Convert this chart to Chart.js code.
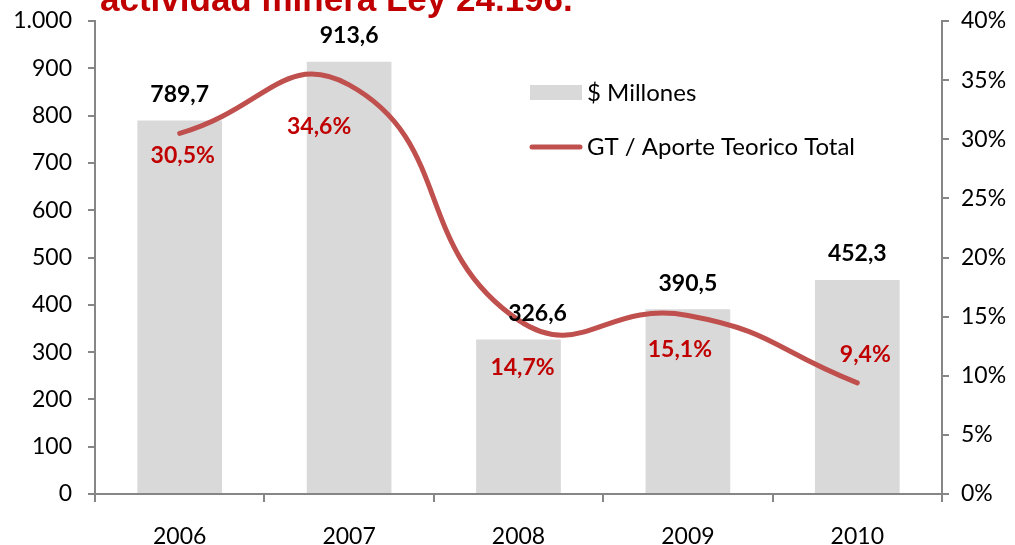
<!DOCTYPE html>
<html>
<head>
<meta charset="utf-8">
<script src="https://cdn.jsdelivr.net/npm/chart.js@4.4.1/dist/chart.umd.min.js"></script>
<style>
  html, body { margin: 0; padding: 0; background: #fff; overflow: hidden; }
  #wrap { position: relative; width: 1015px; height: 545px; }
</style>
</head>
<body>
<div id="wrap"><canvas id="chart" width="1015" height="545"></canvas></div>
<script>
// Chart data
const years = ["2006", "2007", "2008", "2009", "2010"];
const millones = [789.7, 913.6, 326.6, 390.5, 452.3];
const gtAporte = [0.305, 0.346, 0.147, 0.151, 0.094];
const titleText = "actividad minera Ley 24.196.";
const barLabel = "$ Millones";
const lineLabel = "GT / Aporte Teorico Total";

const FONT = "Lato, 'Open Sans', sans-serif";
const AXIS = "#868686";

// label offsets (px) as placed in the original
const barOffsets = [[0, -26], [0, -26], [19, -26], [0, -26], [0, -26]];
const pctOffsets = [[3, 22], [-30, 42], [4, 47], [-8, 34], [8, -28]];

function comma(v) {
  return v.toFixed(1).replace(".", ",");
}

// draws the cut-off title, value labels and the legend inside the plot
const extrasPlugin = {
  id: "extras",
  afterDatasetsDraw(chart) {
    const ctx = chart.ctx;
    ctx.save();

    // title (partly off the top edge)
    ctx.fillStyle = "#C00000";
    ctx.font = "bold 35px 'Liberation Sans', Arial, sans-serif";
    ctx.textAlign = "left";
    ctx.textBaseline = "alphabetic";
    ctx.fillText(titleText, 100, 11);

    // bar values
    const barMeta = chart.getDatasetMeta(1);
    ctx.fillStyle = "#000";
    ctx.font = "bold 23px " + FONT;
    ctx.textAlign = "center";
    ctx.textBaseline = "middle";
    barMeta.data.forEach((bar, i) => {
      const [dx, dy] = barOffsets[i];
      ctx.fillText(comma(millones[i]), bar.x + dx, bar.y + dy);
    });

    // percentage values
    const lineMeta = chart.getDatasetMeta(0);
    ctx.fillStyle = "#C00000";
    lineMeta.data.forEach((pt, i) => {
      const [dx, dy] = pctOffsets[i];
      ctx.fillText(comma(gtAporte[i] * 100) + "%", pt.x + dx, pt.y + dy);
    });

    // legend
    ctx.font = "24px " + FONT;
    ctx.textAlign = "left";
    ctx.fillStyle = "#D9D9D9";
    ctx.fillRect(530, 85, 52, 15);
    ctx.fillStyle = "#000";
    ctx.fillText(barLabel, 587, 93);
    ctx.strokeStyle = "#C0504D";
    ctx.lineWidth = 5;
    ctx.lineCap = "round";
    ctx.beginPath();
    ctx.moveTo(532, 147);
    ctx.lineTo(580, 147);
    ctx.stroke();
    ctx.fillText(lineLabel, 587, 147);

    ctx.restore();
  }
};

function fixWidth(w) {
  return scale => {
    scale.width = w;
    scale.paddingTop = 0;
    scale.paddingBottom = 0;
  };
}

const ctx = document.getElementById("chart").getContext("2d");
new Chart(ctx, {
  data: {
    labels: years,
    datasets: [
      {
        type: "line",
        label: lineLabel,
        data: gtAporte,
        yAxisID: "y1",
        borderColor: "#C0504D",
        borderWidth: 5,
        borderCapStyle: "round",
        tension: 0.5,
        pointRadius: 0,
        order: 0
      },
      {
        type: "bar",
        label: barLabel,
        data: millones,
        yAxisID: "y",
        backgroundColor: "#D9D9D9",
        categoryPercentage: 1,
        barPercentage: 0.5,
        order: 1
      }
    ]
  },
  options: {
    responsive: false,
    animation: false,
    layout: { padding: { top: 21, right: 0, left: 0, bottom: 0 } },
    plugins: {
      legend: { display: false },
      tooltip: { enabled: false }
    },
    scales: {
      x: {
        offset: true,
        grid: { display: true, drawOnChartArea: false, drawTicks: true, tickLength: 8, offset: true, color: AXIS, lineWidth: 2 },
        border: { color: AXIS, width: 2 },
        ticks: { color: "#000", font: { family: FONT, size: 23 }, padding: 21 },
        afterFit(scale) {
          scale.height = 51;
          scale.paddingLeft = 0;
          scale.paddingRight = 0;
        }
      },
      y: {
        min: 0,
        max: 1000,
        grid: { display: true, drawOnChartArea: false, drawTicks: true, tickLength: 7, color: AXIS, lineWidth: 2 },
        border: { color: AXIS, width: 2 },
        ticks: {
          stepSize: 100,
          color: "#000",
          font: { family: FONT, size: 23 },
          padding: 16,
          callback: v => v >= 1000 ? (v / 1000) + ".000" : String(v)
        },
        afterFit: fixWidth(95)
      },
      y1: {
        position: "right",
        min: 0,
        max: 0.4,
        grid: { display: true, drawOnChartArea: false, drawTicks: true, tickLength: 7, color: AXIS, lineWidth: 2 },
        border: { color: AXIS, width: 2 },
        ticks: {
          stepSize: 0.05,
          color: "#000",
          font: { family: FONT, size: 23 },
          padding: 12,
          callback: v => Math.round(v * 100) + "%"
        },
        afterFit: fixWidth(73)
      }
    }
  },
  plugins: [extrasPlugin]
});
</script>
</body>
</html>
